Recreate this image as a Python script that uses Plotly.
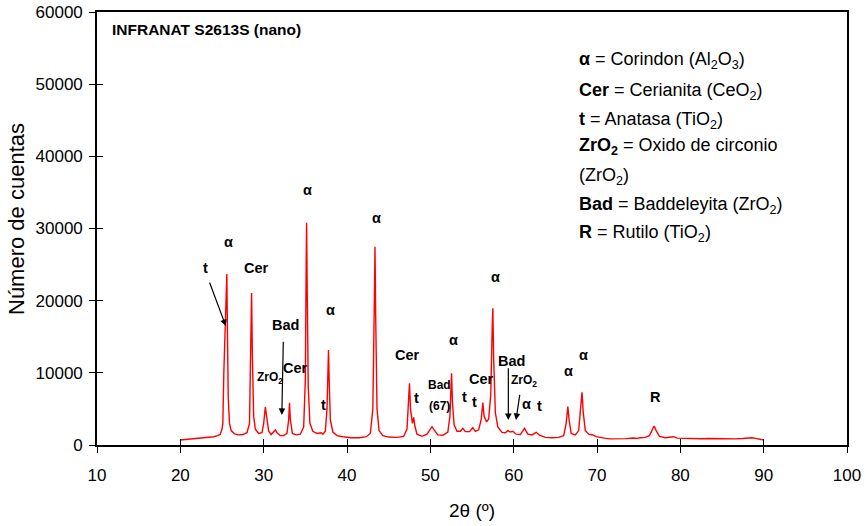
import plotly.graph_objects as go

two_theta = [
    20.0, 20.5, 21.0, 21.5, 22.0, 22.5, 23.0, 23.5, 24.0, 24.5, 24.8, 25.0, 25.1, 25.22, 25.3, 25.4,
    25.5, 25.58, 25.65, 25.75, 25.9, 26.1, 26.5, 27.0, 27.5, 28.0, 28.3, 28.45, 28.55, 28.65, 28.8,
    29.0, 29.4, 29.8, 30.0, 30.2, 30.35, 30.6, 30.9, 31.2, 31.4, 31.6, 32.0, 32.4, 32.8, 33.0, 33.1,
    33.2, 33.45, 33.9, 34.4, 34.8, 35.0, 35.1, 35.15, 35.22, 35.35, 35.55, 35.9, 36.4, 36.9, 37.1,
    37.4, 37.6, 37.72, 37.78, 37.86, 38.0, 38.3, 38.8, 39.5, 40.5, 41.5, 42.3, 42.8, 43.1, 43.28,
    43.36, 43.44, 43.6, 43.85, 44.3, 45.0, 46.0, 46.8, 47.2, 47.4, 47.5, 47.62, 47.85, 48.0, 48.15,
    48.4, 49.0, 49.6, 50.0, 50.2, 50.45, 50.9, 51.5, 52.1, 52.35, 52.48, 52.55, 52.65, 52.85, 53.2,
    53.6, 53.9, 54.2, 54.7, 55.1, 55.4, 55.8, 56.1, 56.3, 56.45, 56.75, 57.0, 57.25, 57.42, 57.5,
    57.6, 57.8, 58.1, 58.6, 59.0, 59.3, 59.6, 59.9, 60.3, 60.8, 61.3, 61.7, 62.2, 62.7, 63.1, 63.8,
    64.6, 65.4, 66.0, 66.3, 66.5, 66.65, 66.9, 67.4, 67.8, 68.05, 68.2, 68.35, 68.6, 69.0, 69.5,
    69.9, 70.4, 70.9, 71.5, 72.5, 73.5, 74.4, 74.8, 75.2, 75.8, 76.3, 76.6, 76.85, 77.1, 77.5, 78.2,
    78.8, 79.2, 79.6, 80.5, 81.5, 82.5, 83.5, 84.5, 85.5, 86.5, 87.5, 88.2, 88.6, 89.0, 89.5, 90.0,
]
counts = [
    700, 760, 820, 800, 880, 920, 980, 1040, 1150, 1300, 1500, 2200, 3000, 10000, 14000, 14600,
    21000, 23700, 16000, 6500, 3000, 2000, 1550, 1400, 1450, 1700, 3000, 12000, 21060, 12000, 4000,
    2200, 1600, 1700, 3000, 5270, 3800, 1900, 1450, 1800, 2080, 1700, 1300, 1300, 1600, 3500, 5860,
    3500, 1600, 1400, 1500, 2500, 9000, 25000, 30800, 22000, 8000, 3000, 1900, 1600, 1700, 1500,
    1900, 5000, 11000, 13160, 9000, 3500, 1800, 1300, 1150, 1000, 1000, 1150, 1600, 5000, 20000,
    27480, 18000, 5000, 2000, 1300, 1100, 1050, 1200, 2200, 6500, 8550, 5000, 3000, 3830, 2600,
    1500, 1200, 1500, 2300, 2540, 2100, 1400, 1350, 1800, 4000, 8500, 9930, 6000, 2800, 1900,
    1900, 2310, 1850, 1850, 2400, 1900, 2100, 3500, 5870, 4000, 3200, 3600, 7000, 16000, 18940,
    12000, 4500, 2500, 1750, 1700, 1990, 1800, 1900, 1500, 1450, 2310, 1500, 1400, 1760, 1350, 1050,
    1000, 1050, 1300, 3000, 5310, 3500, 1600, 1400, 2000, 5000, 7300, 4500, 2000, 1500, 1390,
    1150, 1100, 950, 850, 850, 880, 970, 920, 1000, 1050, 1300, 2000, 2630, 2000, 1200, 1000,
    1050, 1150, 950, 900, 920, 870, 900, 860, 880, 850, 900, 950, 1010, 920, 800, 700,
]

# peak labels: text, 2theta, counts
label_text = ["t", "α", "Cer", "Bad", "Cer", "α", "t", "α", "α", "Cer", "t", "α", "t", "t",
              "Cer", "α", "Bad", "α", "t", "α", "α", "R"]
label_x = [22.96, 25.72, 29.08, 32.56, 33.76, 35.2, 37.12, 37.96, 43.48, 47.2, 48.28, 52.72,
           54.04, 55.24, 56.08, 57.76, 59.68, 61.48, 63.04, 66.52, 68.32, 76.96]
label_y = [24530, 28130, 24530, 16630, 10670, 35330, 5540, 18710, 31450, 12470, 6510, 14550,
           6650, 5960, 9150, 23280, 11640, 5680, 5400, 10250, 12470, 6650]

small_text = ["ZrO<sub>2</sub>", "ZrO<sub>2</sub>", "Bad", "(67)"]
small_x = [30.76, 61.24, 51.04, 51.04]
small_y = [9280, 8870, 8320, 5400]

# arrows: tail (x0, y0) -> head (x1, y1)
arrow_x0 = [23.44, 32.36, 59.36, 60.76]
arrow_y0 = [22720, 14500, 10850, 7160]
arrow_x1 = [25.46, 32.18, 59.36, 60.28]
arrow_y1 = [16490, 4160, 3460, 3460]

legend_lines = [
    "<b>α</b> = Corindon (Al<sub>2</sub>O<sub>3</sub>)",
    "<b>Cer</b> = Cerianita (CeO<sub>2</sub>)",
    "<b>t</b> = Anatasa (TiO<sub>2</sub>)",
    "<b>ZrO<sub>2</sub></b> = Oxido de circonio",
    "(ZrO<sub>2</sub>)",
    "<b>Bad</b> = Baddeleyita (ZrO<sub>2</sub>)",
    "<b>R</b> = Rutilo (TiO<sub>2</sub>)",
]
legend_py = [60.7, 91.7, 120, 146.7, 176.7, 205, 233.3]

x_ticks = [10, 20, 30, 40, 50, 60, 70, 80, 90, 100]
y_ticks = [0, 10000, 20000, 30000, 40000, 50000, 60000]

FONT = "Liberation Sans, Arial, sans-serif"
L, R, T, B = 97, 847, 12, 445
W, H = 866, 526


def px_to_paper(px, py):
    return (px - L) / (R - L), (B - py) / (B - T)


fig = go.Figure()
fig.add_trace(go.Scatter(x=two_theta, y=counts, mode="lines",
                         line=dict(color="#ff0000", width=1.4), showlegend=False,
                         hoverinfo="skip"))
fig.add_trace(go.Scatter(x=[], y=[], xaxis="x2", yaxis="y2", showlegend=False))

ann = []
for t, x, y in zip(label_text, label_x, label_y):
    ann.append(dict(x=x, y=y, xref="x", yref="y", text=f"<b>{t}</b>", showarrow=False,
                    font=dict(family=FONT, size=14.5, color="black")))
for t, x, y in zip(small_text, small_x, small_y):
    ann.append(dict(x=x, y=y, xref="x", yref="y", text=f"<b>{t}</b>", showarrow=False,
                    font=dict(family=FONT, size=12, color="black")))
for x0, y0, x1, y1 in zip(arrow_x0, arrow_y0, arrow_x1, arrow_y1):
    ann.append(dict(x=x1, y=y1, ax=x0, ay=y0, xref="x", yref="y", axref="x", ayref="y",
                    text="", showarrow=True, arrowhead=2, arrowsize=1.1, arrowwidth=1.2,
                    arrowcolor="black", standoff=0, startstandoff=0))
for t, py in zip(legend_lines, legend_py):
    xp, yp = px_to_paper(577, py)
    ann.append(dict(x=xp, y=yp, xref="paper", yref="paper",
                    xanchor="left", yanchor="middle", text=t, showarrow=False,
                    font=dict(family=FONT, size=18, color="black")))
xp, yp = px_to_paper(110, 29)
ann.append(dict(x=xp, y=yp, xref="paper", yref="paper",
                xanchor="left", yanchor="middle", text="<b>INFRANAT S2613S (nano)</b>",
                showarrow=False, font=dict(family=FONT, size=15.5, color="black")))
# axis titles
xp, yp = px_to_paper(472, 510)
ann.append(dict(x=xp, y=yp, xref="paper", yref="paper", xanchor="center", yanchor="middle",
                text="2θ (º)", showarrow=False, font=dict(family=FONT, size=19, color="black")))
xp, yp = px_to_paper(16, 219)
ann.append(dict(x=xp, y=yp, xref="paper", yref="paper", xanchor="center", yanchor="middle",
                text="Número de cuentas", textangle=-90, showarrow=False,
                font=dict(family=FONT, size=22, color="black")))

axis_common = dict(showgrid=False, zeroline=False, linecolor="black", linewidth=1.6,
                   ticks="outside", ticklen=6, tickwidth=1.2, tickcolor="black",
                   automargin=False,
                   tickfont=dict(family=FONT, size=17, color="black"))

fig.update_layout(
    width=W, height=H,
    margin=dict(l=L, r=W - R, t=T, b=H - B, autoexpand=False),
    paper_bgcolor="white", plot_bgcolor="white",
    showlegend=False,
    annotations=ann,
    xaxis=dict(range=[10, 100], tickvals=x_ticks, showline=True, mirror=True,
               ticklabelstandoff=8, **axis_common),
    yaxis=dict(range=[0, 60000], tickvals=y_ticks, showline=True, mirror=True,
               tickformat="d", ticklabelstandoff=3, **axis_common),
    xaxis2=dict(range=[10, 100], tickvals=x_ticks, overlaying="x", anchor="y2", side="bottom",
                ticks="inside", ticklen=6, tickwidth=1.2, tickcolor="black", automargin=False,
                showticklabels=False, showgrid=False, zeroline=False, showline=False),
    yaxis2=dict(range=[0, 60000], tickvals=y_ticks, overlaying="y", anchor="x2", side="left",
                ticks="inside", ticklen=6, tickwidth=1.2, tickcolor="black", automargin=False,
                showticklabels=False, showgrid=False, zeroline=False, showline=False),
)

fig.write_html("out.html")
